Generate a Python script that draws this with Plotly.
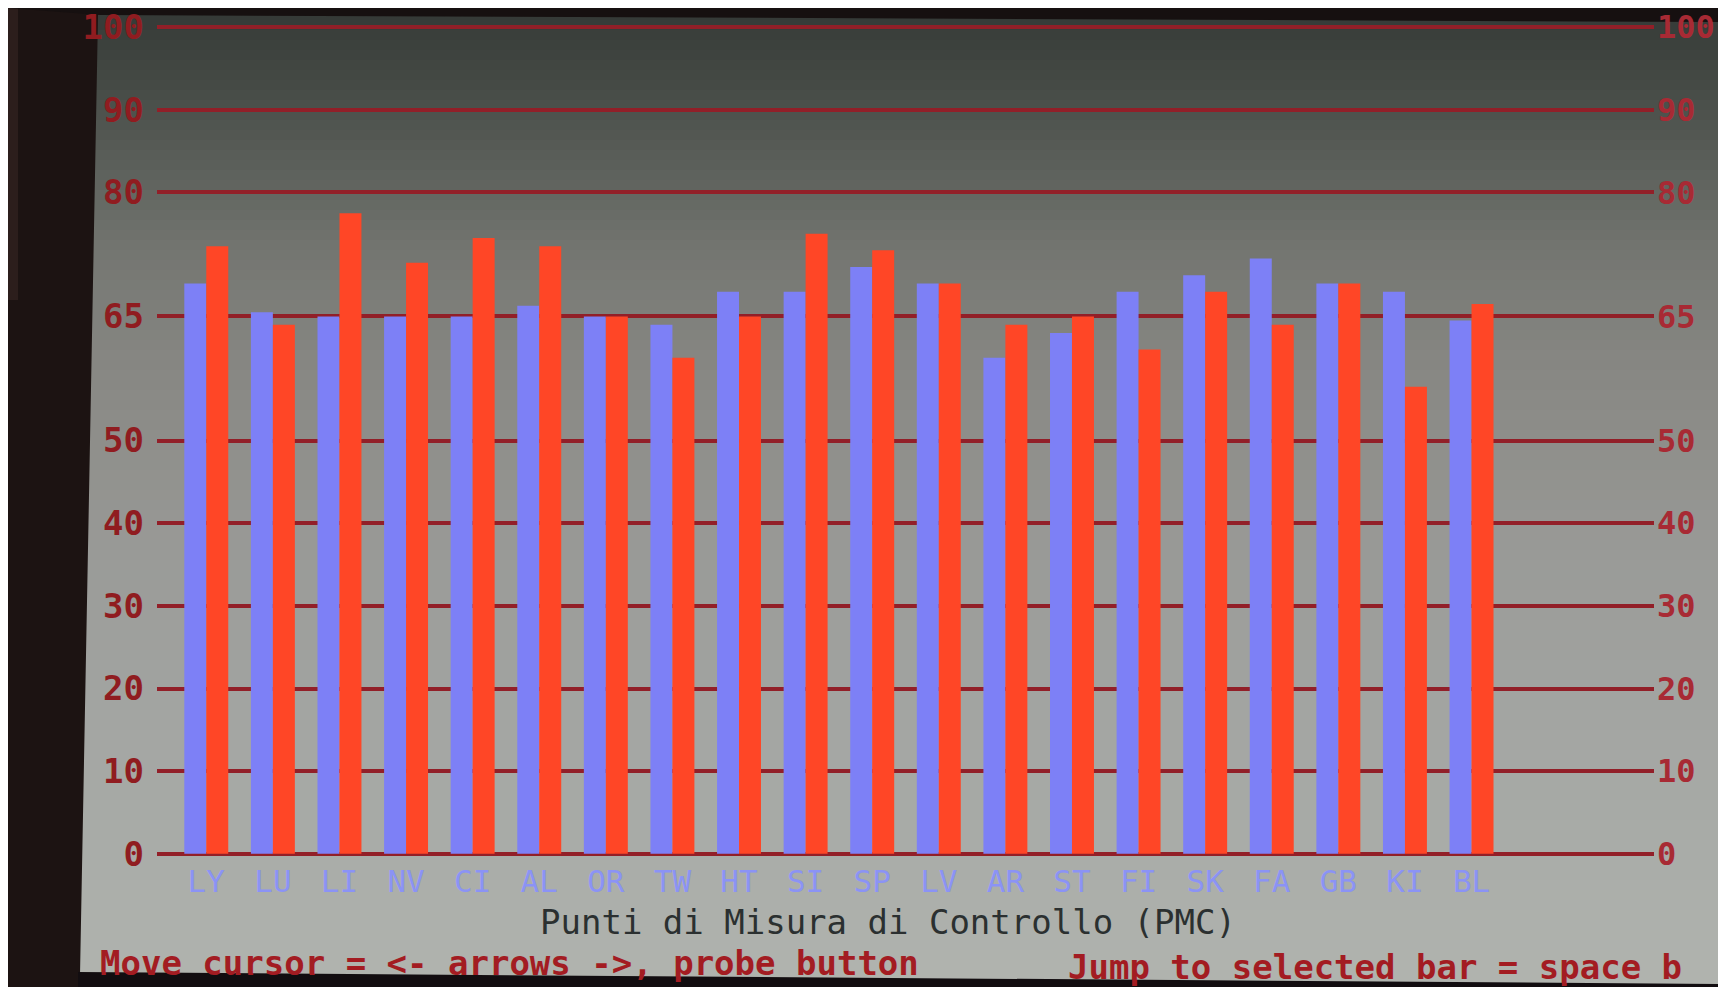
import plotly.graph_objects as go

# ---------------- data ----------------
categories = ["LY", "LU", "LI", "NV", "CI", "AL", "OR", "TW", "HT", "SI",
              "SP", "LV", "AR", "ST", "FI", "SK", "FA", "GB", "KI", "BL"]
blue_values = [69.0, 65.5, 65.0, 65.0, 65.0, 66.3, 65.0, 64.0, 68.0, 68.0,
               71.0, 69.0, 60.0, 63.0, 68.0, 70.0, 72.0, 69.0, 68.0, 64.5]
red_values = [73.5, 64.0, 77.5, 71.5, 74.5, 73.5, 65.0, 60.0, 65.0, 75.0,
              73.0, 69.0, 64.0, 65.0, 61.0, 68.0, 64.0, 69.0, 56.5, 66.5]
y_ticks = [0, 10, 20, 30, 40, 50, 65, 80, 90, 100]
x_title = "Punti di Misura di Controllo (PMC)"
footer_left = "Move cursor = <- arrows ->, probe button"
footer_right = "Jump to selected bar = space b"

# ---------------- geometry ----------------
# The page body has an 8px margin, so the figure is drawn 8px in from the
# page's top-left corner; coordinates below are given in page pixels.
OFF = 8
W, H = 1716, 979            # figure size (fits the 1732x995 page with margins)
PL, PR = 157, 1654          # plot area left / right (page px)
PT, PB = 23, 858            # plot area top / bottom (page px)


def px(x):
    return (x - PL) / (PR - PL)


def py(y):
    return (PB - y) / (PB - PT)


MONO = "DejaVu Sans Mono"
GRID = "#921f28"
BLUE = "#7d80f6"
RED = "#ff4626"

fig = go.Figure()
fig.add_trace(go.Bar(x=categories, y=blue_values, marker=dict(color=BLUE, line=dict(width=0)),
                     hoverinfo="skip"))
fig.add_trace(go.Bar(x=categories, y=red_values, marker=dict(color=RED, line=dict(width=0)),
                     hoverinfo="skip"))
# invisible helper trace so the right-hand axis is rendered
fig.add_trace(go.Scatter(x=categories, y=blue_values, yaxis="y2", mode="markers",
                         marker=dict(opacity=0), hoverinfo="skip", showlegend=False))

# ---------------- background: bezel + screen gradient ----------------
shapes = []


def rect(x0, y0, x1, y1, color):
    shapes.append(dict(type="rect", xref="paper", yref="paper", x0=px(x0), x1=px(x1),
                       y0=py(y1), y1=py(y0), fillcolor=color, line=dict(width=0),
                       layer="below"))


def poly(points, color):
    path = "M " + " L ".join("%f,%f" % (px(x), py(y)) for x, y in points) + " Z"
    shapes.append(dict(type="path", xref="paper", yref="paper", path=path,
                       fillcolor=color, line=dict(width=0), layer="below"))


rect(OFF, OFF, OFF + W, OFF + H, "#ffffff")   # photo border
rect(OFF, OFF, 1718, OFF + H, "#1c1312")      # bezel

# screen gradient
stops = [(10, (0x34, 0x39, 0x36)), (80, (0x44, 0x49, 0x44)), (160, (0x5a, 0x5e, 0x59)),
         (250, (0x73, 0x75, 0x70)), (350, (0x85, 0x85, 0x81)), (450, (0x8f, 0x8f, 0x8b)),
         (550, (0x99, 0x9a, 0x97)), (700, (0xa2, 0xa4, 0xa1)), (850, (0xa9, 0xac, 0xa8)),
         (990, (0xb1, 0xb4, 0xaf))]


def col_at(y):
    for (ya, ca), (yb, cb) in zip(stops[:-1], stops[1:]):
        if ya <= y <= yb:
            t = (y - ya) / (yb - ya)
            c = [round(a + (b - a) * t) for a, b in zip(ca, cb)]
            return "rgb(%d,%d,%d)" % tuple(c)
    return "rgb(%d,%d,%d)" % stops[-1][1]


band = 10
y = 10
while y < 985:
    y2 = min(y + band, 985)
    rect(70, y, 1718, y2 + 2, col_at((y + y2) / 2))
    y = y2

# bezel edges with a little perspective
poly([(OFF, OFF), (100, OFF), (98, 15), (80, 975), (78, OFF + H), (OFF, OFF + H)], "#1c1312")
poly([(OFF, OFF), (OFF, 300), (18, 300), (18, OFF)], "#2c1e1c")
poly([(OFF, OFF), (1718, OFF), (1718, 22), (100, 15)], "#161010")
poly([(78, 972), (1718, 984), (1718, OFF + H), (78, OFF + H)], "#120d10")

annotations = [
    dict(text=x_title, xref="paper", yref="paper", x=px(888), y=py(922), showarrow=False,
         xanchor="center", yanchor="middle", font=dict(family=MONO, size=34, color="#2b3030")),
    dict(text=footer_left, xref="paper", yref="paper", x=px(98), y=py(963), showarrow=False,
         xanchor="left", yanchor="middle",
         font=dict(family=MONO, size=34, color="#a31c22", weight="bold")),
    dict(text=footer_right, xref="paper", yref="paper", x=px(1066), y=py(967), showarrow=False,
         xanchor="left", yanchor="middle",
         font=dict(family=MONO, size=34, color="#a31c22", weight="bold")),
]

yaxis_common = dict(range=[-0.5, 100.5], tickmode="array", tickvals=y_ticks,
                    ticktext=[str(v) for v in y_ticks], ticks="", zeroline=False,
                    showline=False, fixedrange=True, ticklabeloverflow="allow",
                    automargin=False)

fig.update_layout(
    width=W, height=H, autosize=False,
    margin=dict(l=PL - OFF, r=W - (PR - OFF), t=PT - OFF, b=H - (PB - OFF), pad=0,
                autoexpand=False),
    paper_bgcolor="#ffffff",
    plot_bgcolor="rgba(0,0,0,0)",
    barmode="group", bargap=0.34, bargroupgap=0.0,
    showlegend=False,
    xaxis=dict(type="category", categoryorder="array", categoryarray=categories,
               range=[-0.74, 21.74], showgrid=False, zeroline=False, showline=False,
               ticks="", ticklabelstandoff=2, fixedrange=True, automargin=False,
               tickfont=dict(family=MONO, size=31, color="#8b93f5")),
    yaxis=dict(**yaxis_common, side="left", showgrid=True, gridcolor=GRID, gridwidth=4,
               ticklabelstandoff=12,
               tickfont=dict(family=MONO, size=34, color="#901c20", weight="bold")),
    yaxis2=dict(**yaxis_common, side="right", overlaying="y", showgrid=False,
                ticklabelstandoff=2,
                tickfont=dict(family=MONO, size=32, color="#a82a34", weight="bold")),
    shapes=shapes,
    annotations=annotations,
)

fig.write_html("out.html")
